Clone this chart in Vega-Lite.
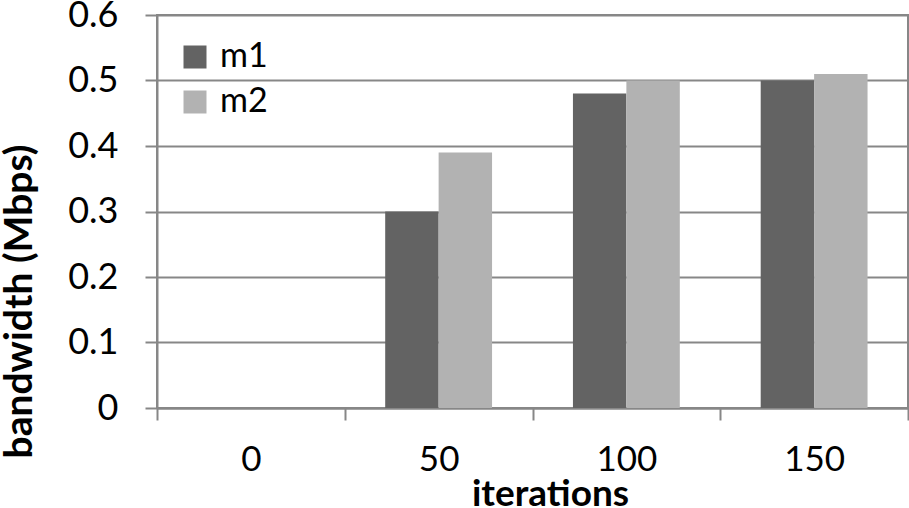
{
  "$schema": "https://vega.github.io/schema/vega-lite/v6.json",
  "autosize": "none",
  "width": 751,
  "height": 393,
  "padding": {"left": 157, "top": 15, "right": 1, "bottom": 100},
  "background": "white",
  "data": {
    "values": [
      {"iterations": "0", "series": "m1", "bandwidth": 0},
      {"iterations": "0", "series": "m2", "bandwidth": 0},
      {"iterations": "50", "series": "m1", "bandwidth": 0.3},
      {"iterations": "50", "series": "m2", "bandwidth": 0.39},
      {"iterations": "100", "series": "m1", "bandwidth": 0.48},
      {"iterations": "100", "series": "m2", "bandwidth": 0.5},
      {"iterations": "150", "series": "m1", "bandwidth": 0.5},
      {"iterations": "150", "series": "m2", "bandwidth": 0.51}
    ]
  },
  "config": {
    "font": "Lato",
    "view": {"stroke": "#878787", "strokeWidth": 2}
  },
  "mark": {"type": "bar"},
  "encoding": {
    "x": {
      "field": "iterations",
      "type": "ordinal",
      "sort": ["0", "50", "100", "150"],
      "scale": {"paddingInner": 0, "paddingOuter": 0},
      "axis": {
        "title": "iterations",
        "titleFont": "Lato",
        "titleFontSize": 37,
        "titleFontWeight": "bold",
        "titleColor": "black",
        "titleX": 393,
        "titleY": 97,
        "titleBaseline": "alphabetic",
        "labelAngle": 0,
        "labelFont": "Lato",
        "labelFontSize": 35,
        "labelColor": "black",
        "labelPadding": 22,
        "tickBand": "extent",
        "tickSize": 12,
        "tickColor": "#878787",
        "tickWidth": 2,
        "domainColor": "#878787",
        "domainWidth": 2
      }
    },
    "xOffset": {"field": "series", "type": "nominal", "scale": {"paddingInner": 0, "paddingOuter": 0.757}},
    "y": {
      "field": "bandwidth",
      "type": "quantitative",
      "scale": {"domain": [0, 0.6], "nice": false},
      "axis": {
        "title": "bandwidth (Mbps)",
        "titleFont": "Lato",
        "titleFontSize": 39,
        "titleFontWeight": "bold",
        "titleColor": "black",
        "titleX": -138,
        "titleY": 286,
        "titleAngle": -90,
        "titleBaseline": "middle",
        "titleAlign": "center",
        "values": [0, 0.1, 0.2, 0.3, 0.4, 0.5, 0.6],
        "format": ".1~f",
        "labelFont": "Lato",
        "labelFontSize": 36,
        "labelColor": "black",
        "labelPadding": 27,
        "tickSize": 12,
        "tickColor": "#878787",
        "tickWidth": 2,
        "grid": true,
        "gridColor": "#878787",
        "gridWidth": 2,
        "domainColor": "#878787",
        "domainWidth": 2
      }
    },
    "color": {
      "field": "series",
      "type": "nominal",
      "scale": {"domain": ["m1", "m2"], "range": ["#636363", "#b2b2b2"]},
      "legend": {
        "title": null,
        "orient": "none",
        "legendX": 21,
        "legendY": 25,
        "symbolType": "square",
        "symbolSize": 529,
        "symbolStrokeWidth": 0,
        "labelFont": "Lato",
        "labelFontSize": 34,
        "labelColor": "black",
        "labelOffset": 8,
        "rowPadding": 11
      }
    }
  }
}
